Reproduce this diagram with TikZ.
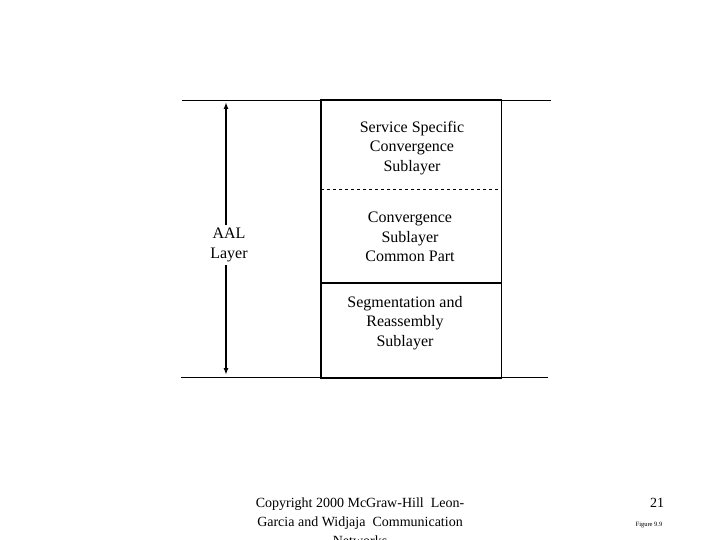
\documentclass[tikz,border=0pt]{standalone}
\usepackage{fontspec}
\setmainfont{Liberation Serif}
\usetikzlibrary{arrows.meta,positioning}

\begin{document}
\begin{tikzpicture}[x=1pt,y=-1pt,>={Latex[length=7pt,width=5pt]}]
  \tikzset{
    layertext/.style={font=\fontsize{16}{19.5}\selectfont,align=center},
    sublayer/.style={minimum width=180pt,inner sep=0pt},
    footer/.style={font=\fontsize{14}{19}\selectfont,align=center}
  }
  \useasboundingbox (0,0) rectangle (720,540);
  % stack of sublayers
  \node[sublayer,minimum height=89pt,anchor=north west] (sscs) at (321,100) {};
  \node[sublayer,minimum height=93pt,below=0pt of sscs] (cpcs) {};
  \node[sublayer,minimum height=95pt,below=0pt of cpcs] (sar) {};
  \draw[line width=1.6pt] (sscs.north west) rectangle (sar.south east);
  \draw[dashed] (sscs.south west) -- (sscs.south east);
  \draw[line width=1.6pt] (cpcs.south west) -- (cpcs.south east);
  \node[layertext] at (412,148) {Service Specific\\Convergence\\Sublayer};
  \node[layertext] at (410,237) {Convergence\\Sublayer\\Common Part};
  \node[layertext] at (405,323) {Segmentation and\\Reassembly\\Sublayer};
  % layer boundaries
  \coordinate (topl) at (182,100);
  \coordinate (topr) at (551,100);
  \coordinate (botl) at (181,377);
  \coordinate (botr) at (548,377);
  \draw (topl) -- (topr);
  \draw (botl) -- (botr);
  % AAL extent
  \node[layertext,inner ysep=3pt] (aal) at (229,245) {AAL\\Layer};
  \coordinate (aaltop) at (226,102);
  \coordinate (aalbot) at (226,375);
  \draw[->,line width=1.6pt] (aaltop |- aal.north) -- (aaltop);
  \draw[->,line width=1.6pt] (aalbot |- aal.south) -- (aalbot);
  % page footer
  \node[footer] (copy) at (360,522) {Copyright 2000 McGraw-Hill\ \ Leon-\\Garcia and Widjaja\ \ Communication\\Networks};
  \node[footer] (page) at (657,503) {21};
  \node[font=\fontsize{6.5}{8}\selectfont] (fig) at (649,525) {Figure 9.9};
\end{tikzpicture}
\end{document}
